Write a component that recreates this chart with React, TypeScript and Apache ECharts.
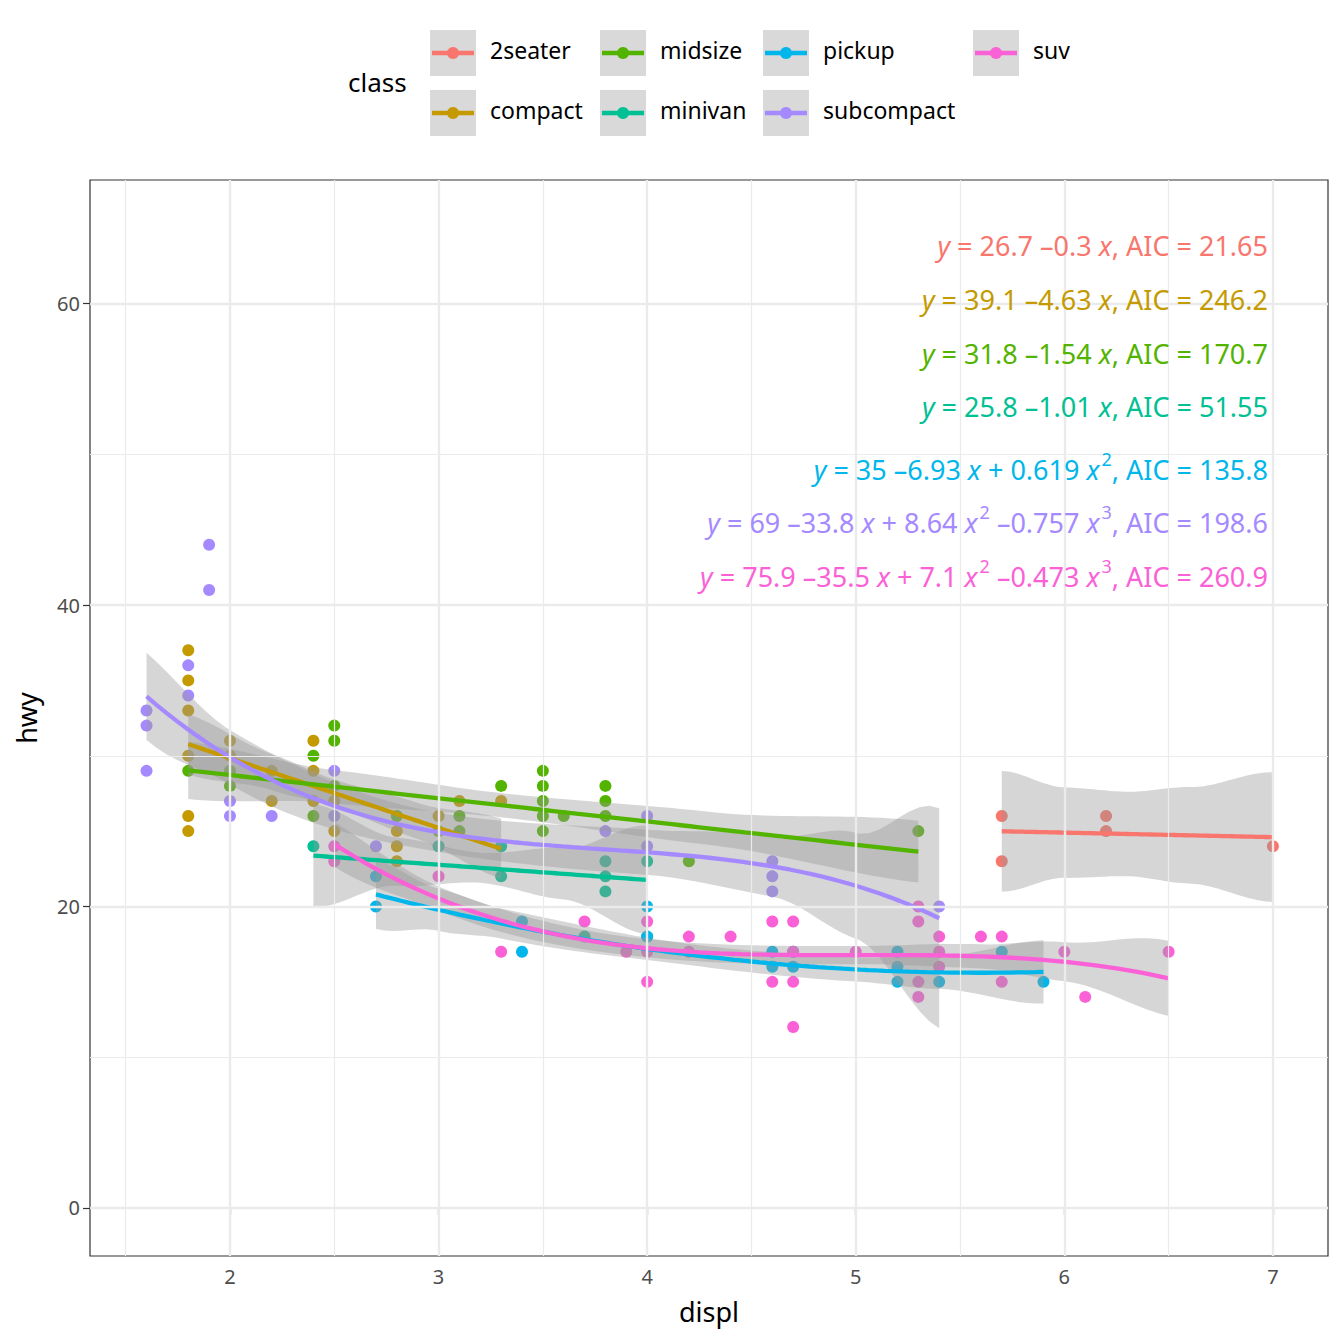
import React, { useEffect, useRef } from "react";
import * as echarts from "echarts";

const classes = ["2seater", "compact", "midsize", "minivan", "pickup", "subcompact", "suv"];
const colors = ["#F8766D", "#C49A00", "#53B400", "#00C094", "#00B6EB", "#A58AFF", "#FB61D7"];

// points [displ, hwy]
const pts2seater = [[5.7, 26], [5.7, 23], [6.2, 26], [6.2, 25], [7.0, 24]];
const ptsCompact = [[1.8, 37], [1.8, 35], [1.8, 33], [1.8, 30], [1.8, 26], [1.8, 25], [2.0, 31], [2.0, 30], [2.2, 29], [2.2, 27], [2.4, 31], [2.4, 29], [2.4, 27], [2.5, 27], [2.5, 25], [2.8, 25], [2.8, 24], [2.8, 23], [3.0, 26], [3.1, 27], [3.3, 27]];
const ptsMidsize = [[1.8, 29], [2.0, 29], [2.0, 28], [2.4, 30], [2.4, 26], [2.5, 32], [2.5, 31], [2.5, 28], [2.8, 26], [3.0, 25], [3.1, 26], [3.1, 25], [3.3, 28], [3.5, 29], [3.5, 28], [3.5, 27], [3.5, 26], [3.5, 25], [3.6, 26], [3.8, 28], [3.8, 27], [3.8, 26], [4.2, 23], [5.3, 25]];
const ptsMinivan = [[2.4, 24], [3.0, 24], [3.3, 24], [3.3, 22], [3.8, 23], [3.8, 22], [3.8, 21], [4.0, 23], [3.7, 18], [4.0, 18]];
const ptsPickup = [[2.7, 22], [2.7, 20], [3.4, 19], [3.4, 17], [4.0, 20], [4.0, 18], [4.6, 17], [4.6, 16], [4.7, 17], [4.7, 16], [5.2, 17], [5.2, 16], [5.2, 15], [5.4, 15], [5.7, 17], [5.9, 15]];
const ptsSubcompact = [[1.6, 33], [1.6, 32], [1.6, 29], [1.8, 36], [1.8, 34], [1.9, 44], [1.9, 41], [2.0, 27], [2.0, 26], [2.2, 26], [2.5, 29], [2.5, 26], [2.7, 24], [3.8, 25], [4.0, 26], [4.0, 24], [4.6, 23], [4.6, 22], [4.6, 21], [5.4, 20]];
const ptsSuv = [[2.5, 24], [2.5, 23], [3.0, 22], [3.3, 17], [3.7, 19], [3.9, 17], [4.0, 19], [4.0, 17], [4.0, 15], [4.2, 18], [4.2, 17], [4.4, 18], [4.6, 19], [4.6, 15], [4.7, 19], [4.7, 17], [4.7, 15], [4.7, 12], [5.0, 17], [5.3, 20], [5.3, 19], [5.3, 15], [5.3, 14], [5.4, 18], [5.4, 17], [5.4, 16], [5.6, 18], [5.7, 18], [5.7, 15], [6.0, 17], [6.1, 14], [6.5, 17]];
const points = [pts2seater, ptsCompact, ptsMidsize, ptsMinivan, ptsPickup, ptsSubcompact, ptsSuv];

// fitted polynomial coefficients (as printed) and x-ranges
const coefs = [[26.7, -0.3], [39.1, -4.63], [31.8, -1.54], [25.8, -1.01], [35, -6.93, 0.619], [69, -33.8, 8.64, -0.757], [75.9, -35.5, 7.1, -0.473]];
const ranges = [[5.7, 7.0], [1.8, 3.3], [1.8, 5.3], [2.4, 4.0], [2.7, 5.9], [1.6, 5.4], [2.5, 6.5]];
// confidence band half-widths at knots [x, halfwidth]
const bandHW = [
  [[5.7, 4.0], [6.0, 3.0], [6.3, 2.8], [6.6, 3.2], [7.0, 4.3]],
  [[1.8, 2.0], [2.2, 1.2], [2.5, 0.9], [2.9, 1.2], [3.3, 2.0]],
  [[1.8, 1.9], [2.5, 1.1], [3.3, 0.8], [4.3, 1.1], [5.3, 2.05]],
  [[2.4, 3.4], [2.8, 1.6], [3.2, 1.0], [3.6, 1.7], [4.0, 3.6]],
  [[2.7, 2.3], [3.0, 1.4], [3.3, 1.0], [4.2, 0.7], [5.0, 0.8], [5.4, 1.1], [5.9, 2.1]],
  [[1.6, 2.9], [2.0, 1.8], [3.0, 1.3], [4.0, 1.5], [4.6, 2.0], [5.0, 3.5], [5.4, 7.3]],
  [[2.5, 1.5], [3.0, 0.8], [4.0, 0.6], [5.0, 0.6], [5.6, 0.8], [6.0, 1.3], [6.5, 2.5]],
];
const labels = [
  "{i|y} = 26.7 –0.3 {i|x}, AIC = 21.65",
  "{i|y} = 39.1 –4.63 {i|x}, AIC = 246.2",
  "{i|y} = 31.8 –1.54 {i|x}, AIC = 170.7",
  "{i|y} = 25.8 –1.01 {i|x}, AIC = 51.55",
  "{i|y} = 35 –6.93 {i|x} + 0.619 {i|x}{s|2}, AIC = 135.8",
  "{i|y} = 69 –33.8 {i|x} + 8.64 {i|x}{s|2} –0.757 {i|x}{s|3}, AIC = 198.6",
  "{i|y} = 75.9 –35.5 {i|x} + 7.1 {i|x}{s|2} –0.473 {i|x}{s|3}, AIC = 260.9",
];
const labelY = [245, 299, 353, 406, 469, 522, 576];
const xTicks = [2, 3, 4, 5, 6, 7];
const yTicks = [0, 20, 40, 60];
const xMinor = [1.5, 2.5, 3.5, 4.5, 5.5, 6.5];
const yMinor = [10, 30, 50];

const FONT = "Noto Sans";
const FS = 27;

function poly(c: number[], x: number) {
  let y = 0;
  for (let i = c.length - 1; i >= 0; i--) y = y * x + c[i];
  return y;
}
function hwAt(knots: number[][], x: number) {
  for (let i = 0; i < knots.length - 1; i++) {
    const [x0, h0] = knots[i], [x1, h1] = knots[i + 1];
    if (x <= x1) {
      const t = (x - x0) / (x1 - x0);
      const s = t * t * (3 - 2 * t);
      return h0 + (h1 - h0) * s;
    }
  }
  return knots[knots.length - 1][1];
}

export default function App() {
  const ref = useRef<HTMLDivElement>(null);
  useEffect(() => {
    const chart = echarts.init(ref.current!, null, { renderer: "svg" });
    const series: any[] = [];
    series.push({
      type: "line", data: [], silent: true,
      markLine: {
        silent: true, symbol: "none", label: { show: false }, animation: false,
        data: [
          ...xMinor.map((v) => ({ xAxis: v, lineStyle: { color: "#ebebeb", width: 1.2, type: "solid" } })),
          ...yMinor.map((v) => ({ yAxis: v, lineStyle: { color: "#ebebeb", width: 1.2, type: "solid" } })),
          ...xTicks.map((v) => ({ xAxis: v, lineStyle: { color: "#ebebeb", width: 2.4, type: "solid" } })),
          ...yTicks.map((v) => ({ yAxis: v, lineStyle: { color: "#ebebeb", width: 2.4, type: "solid" } })),
        ],
      },
    });
    classes.forEach((c, i) => {
      series.push({
        type: "scatter", name: c, data: points[i], symbolSize: 12,
        itemStyle: { color: colors[i], opacity: 1 }, z: 2,
      });
    });
    const curves = classes.map((c, i) => {
      const [a, b] = ranges[i];
      const n = 80;
      const arr: number[][] = [];
      for (let k = 0; k <= n; k++) {
        const x = a + ((b - a) * k) / n;
        arr.push([x, poly(coefs[i], x), hwAt(bandHW[i], x)]);
      }
      return arr;
    });
    classes.forEach((c, i) => {
      const cur = curves[i];
      series.push({
        type: "custom", data: [[0, 0]], z: 3, silent: true,
        renderItem: (params: any, api: any) => {
          const up = cur.map((p) => api.coord([p[0], p[1] + p[2]]));
          const lo = cur.map((p) => api.coord([p[0], p[1] - p[2]])).reverse();
          return { type: "polygon", shape: { points: [...up, ...lo] }, style: { fill: "rgba(153,153,153,0.4)" } };
        },
      });
    });
    classes.forEach((c, i) => {
      series.push({
        type: "line", data: curves[i].map((p) => [p[0], p[1]]), showSymbol: false, z: 4,
        lineStyle: { color: colors[i], width: 4.3 }, silent: true,
      });
    });

    const graphic: any[] = [];
    labels.forEach((l, i) => {
      graphic.push({
        type: "text", right: 1344 - 1268, top: labelY[i] - 19, z: 10,
        style: {
          text: l, fill: colors[i], font: `${FS}px "${FONT}"`, align: "right",
          rich: {
            i: { fontStyle: "italic", fontSize: FS, fontFamily: FONT, fill: colors[i], lineHeight: 38 },
            s: { fontSize: 18, fontFamily: FONT, fill: colors[i], verticalAlign: "top", lineHeight: 38, padding: [0, 0, 0, 2] },
          },
          lineHeight: 38,
        },
      });
    });
    graphic.push({ type: "text", left: 348, top: 69, style: { text: "class", font: `26px "${FONT}"`, fill: "#000" } });
    const legendCols = [[430, 490], [600, 660], [763, 823], [973, 1033]];
    classes.forEach((name, k) => {
      const col = Math.floor(k / 2), row = k % 2;
      const [kx, tx] = legendCols[col];
      const cy = row === 0 ? 53 : 113;
      graphic.push({ type: "rect", shape: { x: kx, y: cy - 23, width: 46, height: 46 }, style: { fill: "#d9d9d9" } });
      graphic.push({ type: "line", shape: { x1: kx + 2, y1: cy, x2: kx + 44, y2: cy }, style: { stroke: colors[k], lineWidth: 4.3 } });
      graphic.push({ type: "circle", shape: { cx: kx + 23, cy, r: 6 }, style: { fill: colors[k] } });
      graphic.push({ type: "text", left: tx, top: cy - 15, style: { text: name, font: `23px "${FONT}"`, fill: "#000" } });
    });

    chart.setOption({
      animation: false,
      textStyle: { fontFamily: FONT },
      grid: { left: 90, right: 16, top: 180, bottom: 88, show: true, borderColor: "#333", borderWidth: 1.2, backgroundColor: "#fff", z: 0 },
      xAxis: {
        type: "value", min: 1.329, max: 7.264, name: "displ", nameLocation: "middle", nameGap: 42,
        nameTextStyle: { fontSize: 27, color: "#000", fontFamily: FONT },
        splitLine: { show: false }, axisLine: { show: false },
        axisTick: { show: true, customValues: xTicks, length: 7, lineStyle: { color: "#333", width: 1.2 } },
        axisLabel: { customValues: xTicks, fontSize: 20, color: "#4d4d4d", margin: 10, fontFamily: FONT },
      },
      yAxis: {
        type: "value", min: -3.19, max: 68.2, name: "hwy", nameLocation: "middle", nameGap: 50, nameRotate: 90,
        nameTextStyle: { fontSize: 27, color: "#000", fontFamily: FONT },
        splitLine: { show: false }, axisLine: { show: false },
        axisTick: { show: true, customValues: yTicks, length: 7, lineStyle: { color: "#333", width: 1.2 } },
        axisLabel: { customValues: yTicks, fontSize: 20, color: "#4d4d4d", margin: 10, fontFamily: FONT },
      },
      series,
      graphic,
    });
    return () => chart.dispose();
  }, []);
  return <div ref={ref} style={{ width: 1344, height: 1344, position: "absolute", left: 0, top: 0 }} />;
}
